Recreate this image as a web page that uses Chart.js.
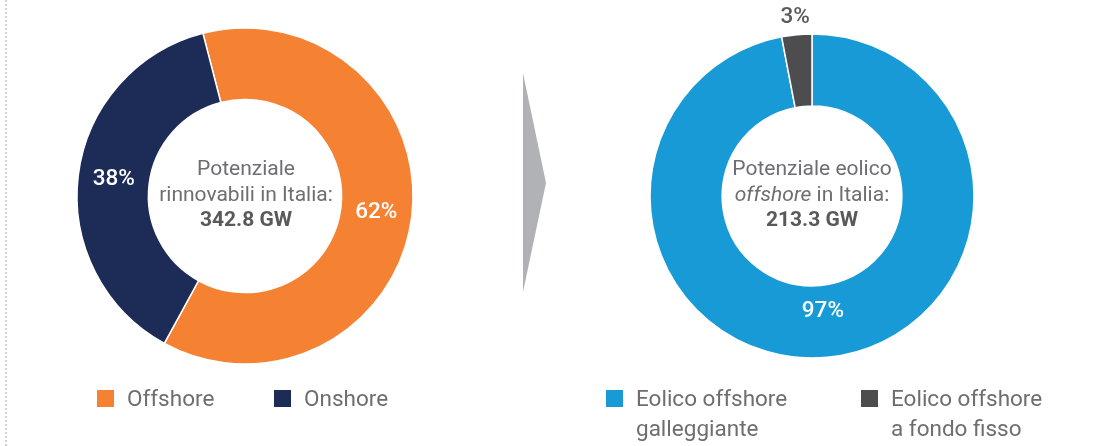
<!DOCTYPE html>
<html lang="it">
  <head>
    <meta charset="UTF-8" />
    <title>Potenziale rinnovabili</title>
    <script src="https://cdn.jsdelivr.net/npm/chart.js"></script>
    <style>
      body {
        margin: 0;
        width: 1097px;
        height: 446px;
        background: #fff;
        position: relative;
        overflow: hidden;
        font-family: Roboto, sans-serif;
        color: #6d6e71;
      }
      .sep {
        position: absolute;
        left: 5px;
        top: 0;
        height: 446px;
        border-left: 2px dotted #d2d2d2;
      }
      .wrap {
        position: absolute;
      }
      .centro {
        position: absolute;
        width: 220px;
        text-align: center;
        font-size: 21px;
        line-height: 25.5px;
      }
      .centro b {
        color: #58595b;
        font-weight: 700;
      }
      .legenda {
        position: absolute;
        font-size: 22.5px;
        line-height: 30px;
      }
      .voce {
        position: absolute;
        white-space: nowrap;
      }
      .voce span.q {
        position: absolute;
        left: 0;
        top: 7px;
        width: 17px;
        height: 17px;
      }
      .voce div {
        margin-left: 30px;
      }
    </style>
  </head>
  <body>
    <div class="sep"></div>

    <!-- grafico sinistra -->
    <div class="wrap" style="left: 65px; top: 6px; width: 360px; height: 380px">
      <canvas id="graficoSx" width="360" height="380"></canvas>
    </div>
    <div class="centro" style="left: 136px; top: 156px">
      Potenziale<br />rinnovabili in Italia:<br /><b id="totSx"></b>
    </div>

    <!-- freccia -->
    <svg style="position: absolute; left: 0; top: 0" width="1097" height="446">
      <polygon points="523,73 546,183 523,292" fill="#b1b2b6" />
    </svg>

    <!-- grafico destra -->
    <div class="wrap" style="left: 622px; top: 1px; width: 380px; height: 390px">
      <canvas id="graficoDx" width="380" height="390"></canvas>
    </div>
    <div class="centro" style="left: 702px; top: 156px">
      Potenziale eolico<br /><i>offshore</i> in Italia:<br /><b id="totDx"></b>
    </div>

    <div id="legendaSx" class="legenda"></div>
    <div id="legendaDx" class="legenda"></div>
  </body>
</html>

<script>
  // dati
  const etichetteSx = ['Offshore', 'Onshore']
  const valoriSx = [62, 38]
  const coloriSx = ['#f58232', '#1d2b57']
  const totaleSx = '342.8 GW'

  const etichetteDx = [
    ['Eolico offshore', 'galleggiante'],
    ['Eolico offshore', 'a fondo fisso']
  ]
  const valoriDx = [97, 3]
  const coloriDx = ['#189ad6', '#4d4d4f']
  const totaleDx = '213.3 GW'

  document.getElementById('totSx').textContent = totaleSx
  document.getElementById('totDx').textContent = totaleDx

  // etichette percentuali sulle fette (dentro o fuori dall'anello)
  const pluginPercentuali = {
    id: 'percentuali',
    afterDatasetsDraw(chart, args, opts) {
      const ctx = chart.ctx
      const meta = chart.getDatasetMeta(0)
      const valori = chart.data.datasets[0].data
      ctx.save()
      ctx.font = '500 22.5px Roboto'
      ctx.textAlign = 'center'
      ctx.textBaseline = 'middle'
      meta.data.forEach((arco, i) => {
        const p = arco.getProps(['x', 'y', 'startAngle', 'endAngle', 'innerRadius', 'outerRadius'])
        const ang = (p.startAngle + p.endAngle) / 2
        let r, colore
        if (valori[i] < 10) {
          r = p.outerRadius + 17
          colore = '#58595b'
        } else {
          r = p.innerRadius + (p.outerRadius - p.innerRadius) * opts.pos
          colore = '#fff'
        }
        ctx.fillStyle = colore
        ctx.fillText(valori[i] + '%', p.x + Math.cos(ang) * r, p.y + Math.sin(ang) * r)
      })
      ctx.restore()
    }
  }

  function creaGrafico(id, etichette, valori, colori, raggio, cutout, rotazione, pos) {
    return new Chart(document.getElementById(id), {
      type: 'doughnut',
      data: {
        labels: etichette,
        datasets: [
          {
            data: valori,
            backgroundColor: colori,
            borderColor: '#fff',
            borderWidth: 1.5
          }
        ]
      },
      options: {
        responsive: false,
        animation: false,
        radius: raggio,
        cutout: cutout,
        rotation: rotazione,
        layout: { padding: 0 },
        plugins: {
          legend: { display: false },
          tooltip: { enabled: false },
          percentuali: { pos: pos }
        }
      },
      plugins: [pluginPercentuali]
    })
  }

  creaGrafico('graficoSx', etichetteSx, valoriSx, coloriSx, 168, '57.5%', -14.5, 0.5)
  creaGrafico('graficoDx', etichetteDx, valoriDx, coloriDx, 162, '55.5%', 0, 0.36)

  // legende
  function creaLegenda(id, etichette, colori, x, y, passo) {
    const box = document.getElementById(id)
    box.style.left = x + 'px'
    box.style.top = y + 'px'
    etichette.forEach((et, i) => {
      const righe = Array.isArray(et) ? et : [et]
      const voce = document.createElement('div')
      voce.className = 'voce'
      voce.style.left = passo[i] + 'px'
      voce.innerHTML =
        `<span class="q" style="background:${colori[i]}"></span>` +
        `<div>${righe.join('<br>')}</div>`
      box.appendChild(voce)
    })
  }

  creaLegenda('legendaSx', etichetteSx, coloriSx, 97, 383, [0, 177])
  creaLegenda('legendaDx', etichetteDx, coloriDx, 606, 383, [0, 255])
</script>
